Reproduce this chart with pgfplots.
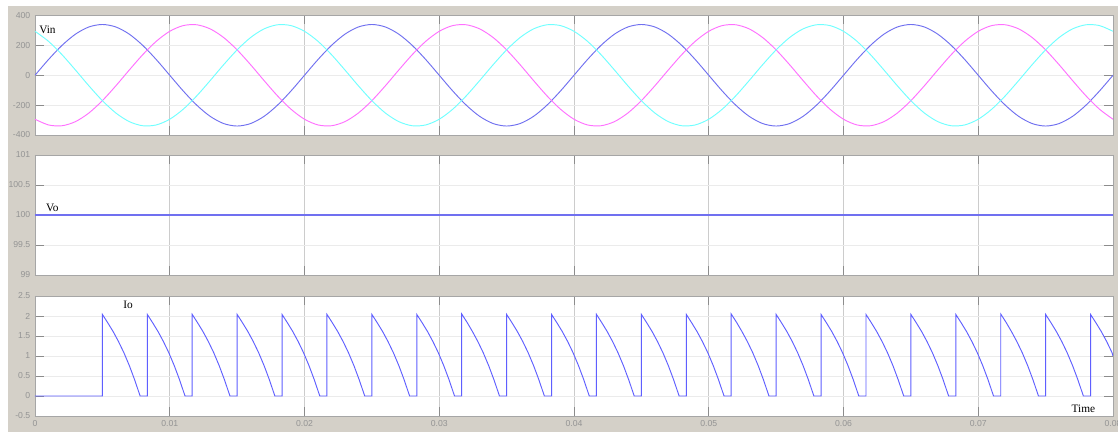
\documentclass[border=0pt]{standalone}
\usepackage{pgfplots}
\pgfplotsset{compat=1.18}
\usepackage{pgfplotstable}
\usepackage{fontspec}
\setmainfont{Liberation Serif}
\setsansfont{Liberation Sans}

\definecolor{scopebg}{RGB}{212,208,200}
\definecolor{phA}{RGB}{112,112,240}
\definecolor{phB}{RGB}{255,112,255}
\definecolor{phC}{RGB}{112,255,255}
\definecolor{trace}{RGB}{95,95,255}

% three phase input, one row per ms
\pgfplotstableread{
t a b c
0.000 0 -294.4 294.4
0.001 105.1 -332.6 227.5
0.002 199.8 -338.1 138.3
0.003 275.1 -310.6 35.5
0.004 323.4 -252.7 -70.7
0.005 340 -170 -170
0.006 323.4 -70.7 -252.7
0.007 275.1 35.5 -310.6
0.008 199.8 138.3 -338.1
0.009 105.1 227.5 -332.6
0.010 0 294.4 -294.4
0.011 -105.1 332.6 -227.5
0.012 -199.8 338.1 -138.3
0.013 -275.1 310.6 -35.5
0.014 -323.4 252.7 70.7
0.015 -340 170 170
0.016 -323.4 70.7 252.7
0.017 -275.1 -35.5 310.6
0.018 -199.8 -138.3 338.1
0.019 -105.1 -227.5 332.6
0.020 0 -294.4 294.4
0.021 105.1 -332.6 227.5
0.022 199.8 -338.1 138.3
0.023 275.1 -310.6 35.5
0.024 323.4 -252.7 -70.7
0.025 340 -170 -170
0.026 323.4 -70.7 -252.7
0.027 275.1 35.5 -310.6
0.028 199.8 138.3 -338.1
0.029 105.1 227.5 -332.6
0.030 0 294.4 -294.4
0.031 -105.1 332.6 -227.5
0.032 -199.8 338.1 -138.3
0.033 -275.1 310.6 -35.5
0.034 -323.4 252.7 70.7
0.035 -340 170 170
0.036 -323.4 70.7 252.7
0.037 -275.1 -35.5 310.6
0.038 -199.8 -138.3 338.1
0.039 -105.1 -227.5 332.6
0.040 0 -294.4 294.4
0.041 105.1 -332.6 227.5
0.042 199.8 -338.1 138.3
0.043 275.1 -310.6 35.5
0.044 323.4 -252.7 -70.7
0.045 340 -170 -170
0.046 323.4 -70.7 -252.7
0.047 275.1 35.5 -310.6
0.048 199.8 138.3 -338.1
0.049 105.1 227.5 -332.6
0.050 0 294.4 -294.4
0.051 -105.1 332.6 -227.5
0.052 -199.8 338.1 -138.3
0.053 -275.1 310.6 -35.5
0.054 -323.4 252.7 70.7
0.055 -340 170 170
0.056 -323.4 70.7 252.7
0.057 -275.1 -35.5 310.6
0.058 -199.8 -138.3 338.1
0.059 -105.1 -227.5 332.6
0.060 0 -294.4 294.4
0.061 105.1 -332.6 227.5
0.062 199.8 -338.1 138.3
0.063 275.1 -310.6 35.5
0.064 323.4 -252.7 -70.7
0.065 340 -170 -170
0.066 323.4 -70.7 -252.7
0.067 275.1 35.5 -310.6
0.068 199.8 138.3 -338.1
0.069 105.1 227.5 -332.6
0.070 0 294.4 -294.4
0.071 -105.1 332.6 -227.5
0.072 -199.8 338.1 -138.3
0.073 -275.1 310.6 -35.5
0.074 -323.4 252.7 70.7
0.075 -340 170 170
0.076 -323.4 70.7 252.7
0.077 -275.1 -35.5 310.6
0.078 -199.8 -138.3 338.1
0.079 -105.1 -227.5 332.6
0.080 0 -294.4 294.4
}\vintab

% output current, one pulse per line
\pgfplotstableread[row sep=\\]{
t i\\
0 0\\
0.005 0\\ 0.005 2.04\\ 0.0054 1.83\\ 0.0058 1.61\\ 0.0062 1.36\\ 0.0066 1.08\\ 0.0070 0.76\\ 0.0074 0.40\\ 0.0078 0\\
0.008333 0\\ 0.008333 2.04\\ 0.008733 1.83\\ 0.009133 1.61\\ 0.009533 1.36\\ 0.009933 1.08\\ 0.010333 0.76\\ 0.010733 0.40\\ 0.011133 0\\
0.011667 0\\ 0.011667 2.04\\ 0.012067 1.83\\ 0.012467 1.61\\ 0.012867 1.36\\ 0.013267 1.08\\ 0.013667 0.76\\ 0.014067 0.40\\ 0.014467 0\\
0.015 0\\ 0.015 2.04\\ 0.0154 1.83\\ 0.0158 1.61\\ 0.0162 1.36\\ 0.0166 1.08\\ 0.0170 0.76\\ 0.0174 0.40\\ 0.0178 0\\
0.018333 0\\ 0.018333 2.04\\ 0.018733 1.83\\ 0.019133 1.61\\ 0.019533 1.36\\ 0.019933 1.08\\ 0.020333 0.76\\ 0.020733 0.40\\ 0.021133 0\\
0.021667 0\\ 0.021667 2.04\\ 0.022067 1.83\\ 0.022467 1.61\\ 0.022867 1.36\\ 0.023267 1.08\\ 0.023667 0.76\\ 0.024067 0.40\\ 0.024467 0\\
0.025 0\\ 0.025 2.04\\ 0.0254 1.83\\ 0.0258 1.61\\ 0.0262 1.36\\ 0.0266 1.08\\ 0.0270 0.76\\ 0.0274 0.40\\ 0.0278 0\\
0.028333 0\\ 0.028333 2.04\\ 0.028733 1.83\\ 0.029133 1.61\\ 0.029533 1.36\\ 0.029933 1.08\\ 0.030333 0.76\\ 0.030733 0.40\\ 0.031133 0\\
0.031667 0\\ 0.031667 2.05\\ 0.032067 1.84\\ 0.032467 1.61\\ 0.032867 1.36\\ 0.033267 1.08\\ 0.033667 0.76\\ 0.034067 0.40\\ 0.034467 0\\
0.035 0\\ 0.035 2.04\\ 0.0354 1.83\\ 0.0358 1.61\\ 0.0362 1.36\\ 0.0366 1.08\\ 0.0370 0.76\\ 0.0374 0.40\\ 0.0378 0\\
0.038333 0\\ 0.038333 2.04\\ 0.038733 1.83\\ 0.039133 1.61\\ 0.039533 1.36\\ 0.039933 1.08\\ 0.040333 0.76\\ 0.040733 0.40\\ 0.041133 0\\
0.041667 0\\ 0.041667 2.04\\ 0.042067 1.83\\ 0.042467 1.61\\ 0.042867 1.36\\ 0.043267 1.08\\ 0.043667 0.76\\ 0.044067 0.40\\ 0.044467 0\\
0.045 0\\ 0.045 2.04\\ 0.0454 1.83\\ 0.0458 1.61\\ 0.0462 1.36\\ 0.0466 1.08\\ 0.0470 0.76\\ 0.0474 0.40\\ 0.0478 0\\
0.048333 0\\ 0.048333 2.04\\ 0.048733 1.83\\ 0.049133 1.61\\ 0.049533 1.36\\ 0.049933 1.08\\ 0.050333 0.76\\ 0.050733 0.40\\ 0.051133 0\\
0.051667 0\\ 0.051667 2.05\\ 0.052067 1.84\\ 0.052467 1.61\\ 0.052867 1.36\\ 0.053267 1.08\\ 0.053667 0.76\\ 0.054067 0.40\\ 0.054467 0\\
0.055 0\\ 0.055 2.04\\ 0.0554 1.83\\ 0.0558 1.61\\ 0.0562 1.36\\ 0.0566 1.08\\ 0.0570 0.76\\ 0.0574 0.40\\ 0.0578 0\\
0.058333 0\\ 0.058333 2.04\\ 0.058733 1.83\\ 0.059133 1.61\\ 0.059533 1.36\\ 0.059933 1.08\\ 0.060333 0.76\\ 0.060733 0.40\\ 0.061133 0\\
0.061667 0\\ 0.061667 2.04\\ 0.062067 1.83\\ 0.062467 1.61\\ 0.062867 1.36\\ 0.063267 1.08\\ 0.063667 0.76\\ 0.064067 0.40\\ 0.064467 0\\
0.065 0\\ 0.065 2.04\\ 0.0654 1.83\\ 0.0658 1.61\\ 0.0662 1.36\\ 0.0666 1.08\\ 0.0670 0.76\\ 0.0674 0.40\\ 0.0678 0\\
0.068333 0\\ 0.068333 2.04\\ 0.068733 1.83\\ 0.069133 1.61\\ 0.069533 1.36\\ 0.069933 1.08\\ 0.070333 0.76\\ 0.070733 0.40\\ 0.071133 0\\
0.071667 0\\ 0.071667 2.05\\ 0.072067 1.84\\ 0.072467 1.61\\ 0.072867 1.36\\ 0.073267 1.08\\ 0.073667 0.76\\ 0.074067 0.40\\ 0.074467 0\\
0.075 0\\ 0.075 2.04\\ 0.0754 1.83\\ 0.0758 1.61\\ 0.0762 1.36\\ 0.0766 1.08\\ 0.0770 0.76\\ 0.0774 0.40\\ 0.0778 0\\
0.078333 0\\ 0.078333 2.04\\ 0.078733 1.83\\ 0.079133 1.61\\ 0.079533 1.36\\ 0.079933 1.08\\ 0.08 1.00\\
}\iotab

\pgfplotsset{
  scopepanel/.style={
    scale only axis,
    width=808.5pt, height=90pt,
    anchor=south west,
    xmin=0, xmax=0.08,
    xtick={0,0.01,0.02,0.03,0.04,0.05,0.06,0.07,0.08},
    scaled x ticks=false,
    scaled y ticks=false,
    axis background/.style={fill=white},
    axis line style={black!35},
    tick align=inside,
    major tick length=6.5pt,
    tick style={black!45, line width=0.6pt},
    grid=major,
    x grid style={black!20, line width=0.5pt},
    y grid style={black!8, line width=0.5pt},
    tick label style={font=\sffamily\fontsize{6.5}{7}\selectfont, text=black!42},
    /pgf/number format/assume math mode=true,
    xticklabels={},
  },
}
\tikzset{lbl/.style={font=\fontsize{8.5}{9}\selectfont, text=black, inner sep=0pt}}

\begin{document}
\begin{tikzpicture}
\useasboundingbox (0,0) rectangle (838.5pt,324pt);
\fill[scopebg] (6pt,0) rectangle (838.5pt,319.5pt);

% Vin
\begin{axis}[scopepanel, at={(26.25pt,222.75pt)}, height=89.6pt,
  ymin=-400, ymax=400, ytick={-400,-200,0,200,400}]
\addplot[phA, line width=0.7pt, smooth] table[x=t, y=a] {\vintab};
\addplot[phB, line width=0.7pt, smooth] table[x=t, y=b] {\vintab};
\addplot[phC, line width=0.7pt, smooth] table[x=t, y=c] {\vintab};
\node[lbl, anchor=west] at (axis cs:0.0003,303) {Vin};
\end{axis}

% Vo
\begin{axis}[scopepanel, at={(26.25pt,117.75pt)},
  ymin=99, ymax=101, ytick={99,99.5,100,100.5,101}]
\addplot[phA, line width=0.9pt] coordinates {(0,100) (0.08,100)};
\node[lbl, anchor=west] at (axis cs:0.0008,100.12) {Vo};
\end{axis}

% Io
\begin{axis}[scopepanel, at={(26.25pt,12pt)},
  ymin=-0.5, ymax=2.5, ytick={-0.5,0,0.5,1,1.5,2,2.5},
  xticklabels={0,0.01,0.02,0.03,0.04,0.05,0.06,0.07,0.08}]
\addplot[trace, line width=0.7pt] table[x=t, y=i] {\iotab};
\node[lbl] at (axis cs:0.0069,2.28) {Io};
\node[lbl] at (axis cs:0.0778,-0.31) {Time};
\end{axis}
\end{tikzpicture}
\end{document}
